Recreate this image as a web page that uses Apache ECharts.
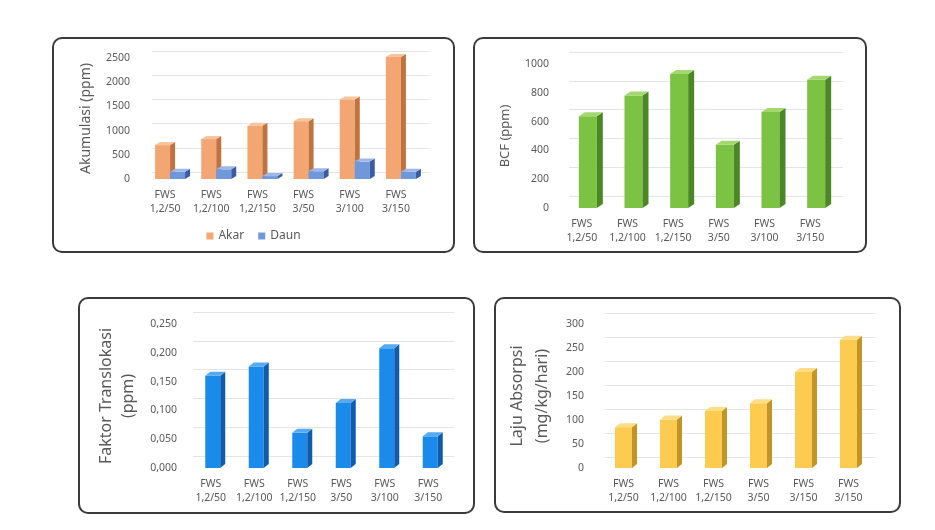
<!DOCTYPE html>
<html lang="en">
<head>
  <meta charset="UTF-8">
  <title>Akumulasi, BCF, Faktor Translokasi, Laju Absorpsi</title>
  <script src="https://cdn.jsdelivr.net/npm/echarts@6/dist/echarts.min.js"></script>
  <style>
    body { margin: 0; background: #fff; width: 935px; height: 530px; position: relative; overflow: hidden; }
    .panel { position: absolute; border: 2px solid #3a3a3a; border-radius: 10px; box-sizing: border-box; background: #fff; }
  </style>
</head>
<body>
<div class="panel" id="p1" style="left:52px; top:37px; width:403px; height:216px;"></div>
<div class="panel" id="p2" style="left:473px; top:37px; width:394px; height:216px;"></div>
<div class="panel" id="p3" style="left:78px; top:297px; width:397px; height:217px;"></div>
<div class="panel" id="p4" style="left:494px; top:297px; width:407px; height:216px;"></div>

<script>
  // data
  var kategori = ['FWS\n1,2/50', 'FWS\n1,2/100', 'FWS\n1,2/150', 'FWS\n3/50', 'FWS\n3/100', 'FWS\n3/150'];
  var akar = [700, 825, 1100, 1195, 1640, 2520];
  var daun = [150, 200, 60, 160, 360, 150];
  var bcf = [637, 782, 930, 440, 667, 891];
  var translokasi = [0.160, 0.176, 0.061, 0.113, 0.208, 0.055];
  var lajuAbsorpsi = [85, 101, 119, 135, 200, 267];
  var kategoriLaju = ['FWS\n1,2/50', 'FWS\n1,2/100', 'FWS\n1,2/150', 'FWS\n3/50', 'FWS\n3/150', 'FWS\n3/150'];

  var font = 'Noto Sans';
  var abu = '#595959';

  // batang 3D sederhana: muka depan, samping, atas
  function bar3d(c, w, off, dx, dy) {
    return function (params, api) {
      var i = api.value(0), v = api.value(1);
      var pt = api.coord([i, v]), p0 = api.coord([i, 0]);
      var x0 = pt[0] + off - w / 2, x1 = x0 + w, yT = pt[1], yB = p0[1];
      return {
        type: 'group',
        children: [
          {type: 'rect', shape: {x: x0, y: yT, width: w, height: yB - yT}, style: {fill: c.front}},
          {type: 'polygon', shape: {points: [[x1, yT], [x1 + dx, yT - dy], [x1 + dx, yB - dy], [x1, yB]]}, style: {fill: c.side}},
          {type: 'polygon', shape: {points: [[x0, yT], [x0 + dx, yT - dy], [x1 + dx, yT - dy], [x1, yT]]}, style: {fill: c.top}}
        ]
      };
    };
  }

  function toData(arr) {
    return arr.map(function (v, i) { return [i, v]; });
  }

  function buatOpsi(o) {
    var g = o.grid;
    var s = o.shift;
    return {
      animation: false,
      textStyle: {fontFamily: font},
      grid: [
        {left: g[0], right: g[1], top: g[2], bottom: g[3]},
        // dinding belakang (garis grid bergeser)
        {left: g[0] + s[0], right: g[1] - s[0], top: g[2] - s[1], bottom: g[3] + s[1]}
      ],
      xAxis: [
        {
          type: 'category', gridIndex: 0, data: o.cats,
          axisLine: {show: false}, axisTick: {show: false},
          axisLabel: {color: abu, fontSize: 10.5, lineHeight: 14, margin: 9, interval: 0}
        },
        {type: 'category', gridIndex: 1, data: o.cats, show: false}
      ],
      yAxis: [
        {
          type: 'value', gridIndex: 0, min: 0, max: o.max, interval: o.interval,
          splitLine: {show: false}, axisLine: {show: false}, axisTick: {show: false},
          axisLabel: {color: abu, fontSize: 10.5, margin: o.labelMargin, formatter: o.fmt || function (v) { return String(v); }},
          name: o.name, nameLocation: 'middle', nameRotate: 90, nameGap: o.nameGap,
          nameTextStyle: {color: abu, fontSize: o.nameSize, lineHeight: o.nameLine || o.nameSize + 4, fontFamily: font}
        },
        {
          type: 'value', gridIndex: 1, min: 0, max: o.max, interval: o.interval,
          axisLabel: {show: false}, axisLine: {show: false}, axisTick: {show: false},
          splitLine: {lineStyle: {color: '#e4e4e4', width: 1}}
        }
      ],
      legend: o.legend,
      series: o.series
    };
  }

  var oranye = {front: '#F4A672', side: '#C0723F', top: '#F8C49E'};
  var biruMuda = {front: '#6F98DC', side: '#3B5C9E', top: '#9DB8E8'};
  var hijau = {front: '#7CC243', side: '#4C8726', top: '#A2D86E'};
  var biru = {front: '#1A8BEA', side: '#0F5DAA', top: '#55AAF0'};
  var kuning = {front: '#FDCB4F', side: '#C29527', top: '#FEDD86'};

  // chart 1
  var chart1 = echarts.init(document.getElementById('p1'));
  chart1.setOption(buatOpsi({
    grid: [88, 34, 19, 72], shift: [10, 7], labelMargin: 12,
    cats: kategori, max: 2500, interval: 500, name: 'Akumulasi (ppm)', nameGap: 45, nameSize: 14,
    legend: {
      bottom: 4, left: 'center', itemWidth: 7, itemHeight: 7, itemGap: 14, icon: 'rect',
      textStyle: {color: abu, fontSize: 12, fontFamily: font},
      data: ['Akar', 'Daun']
    },
    series: [
      {name: 'Akar', type: 'custom', renderItem: bar3d(oranye, 15, -2.5, 5, 3), data: toData(akar),
        encode: {x: 0, y: 1}, itemStyle: {color: oranye.front}},
      {name: 'Daun', type: 'custom', renderItem: bar3d(biruMuda, 15, 12.5, 5, 3), data: toData(daun),
        encode: {x: 0, y: 1}, itemStyle: {color: biruMuda.front}}
    ]
  }));

  // chart 2
  var chart2 = echarts.init(document.getElementById('p2'));
  chart2.setOption(buatOpsi({
    grid: [84, 32, 25, 43], shift: [10, 12], labelMargin: 10,
    cats: kategori, max: 1000, interval: 200, name: 'BCF (ppm)', nameGap: 45, nameSize: 13,
    series: [
      {name: 'BCF', type: 'custom', renderItem: bar3d(hijau, 18, 6, 6, 4), data: toData(bcf),
        encode: {x: 0, y: 1}}
    ]
  }));

  // chart 3
  var chart3 = echarts.init(document.getElementById('p3'));
  chart3.setOption(buatOpsi({
    grid: [109, 23, 25, 44], shift: [4, 12], labelMargin: 12,
    cats: kategori, max: 0.25, interval: 0.05, name: 'Faktor Translokasi\n(ppm)', nameGap: 44,
    nameSize: 16, nameLine: 22,
    fmt: function (v) { return v.toFixed(3).replace('.', ','); },
    series: [
      {name: 'Faktor Translokasi', type: 'custom', renderItem: bar3d(biru, 15, 2, 5, 4), data: toData(translokasi),
        encode: {x: 0, y: 1}}
    ]
  }));

  // chart 4
  var chart4 = echarts.init(document.getElementById('p4'));
  chart4.setOption(buatOpsi({
    grid: [105, 28, 25, 43], shift: [4, 11], labelMargin: 17,
    cats: kategoriLaju, max: 300, interval: 50, name: 'Laju Absorpsi\n(mg/kg/hari)', nameGap: 37,
    nameSize: 16, nameLine: 25,
    series: [
      {name: 'Laju Absorpsi', type: 'custom', renderItem: bar3d(kuning, 17, 0, 5, 4), data: toData(lajuAbsorpsi),
        encode: {x: 0, y: 1}}
    ]
  }));
</script>
</body>
</html>
